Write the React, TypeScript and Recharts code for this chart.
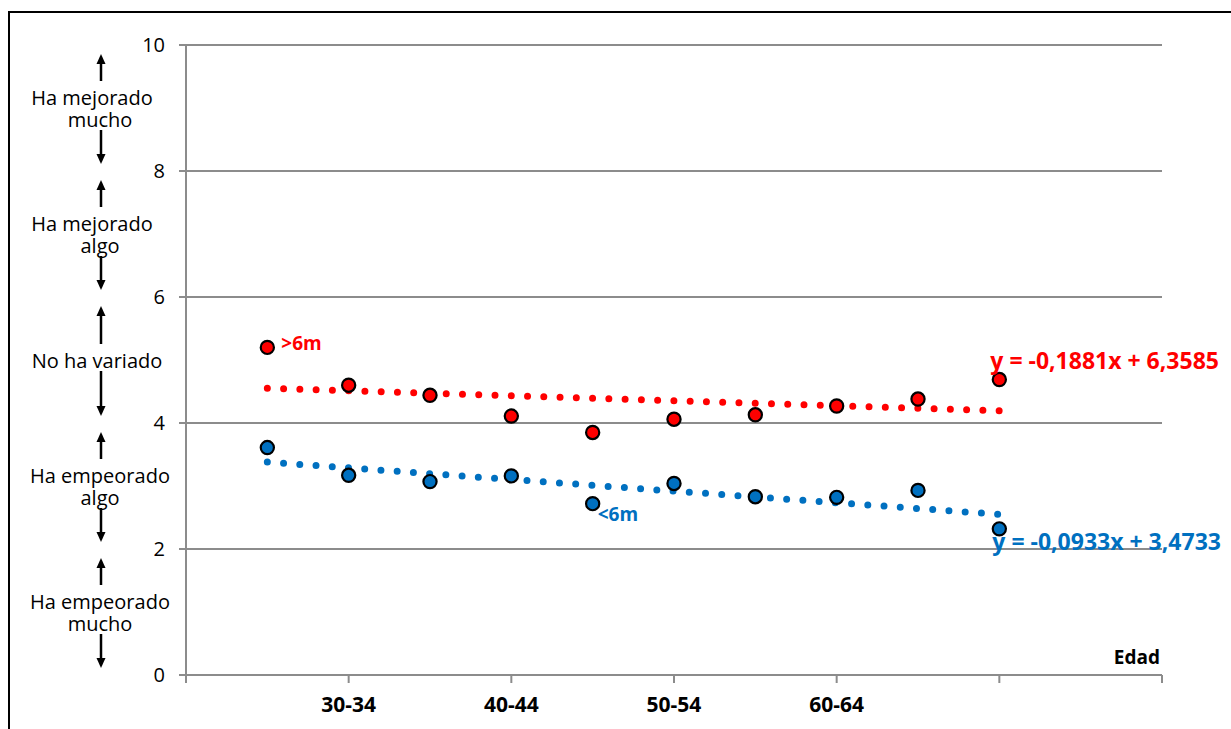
import React from 'react';
import { ScatterChart, Scatter, XAxis, YAxis, CartesianGrid, ReferenceLine, ReferenceDot } from 'recharts';

// ---- data ----
const ageGroups = ['25-29', '30-34', '35-39', '40-44', '45-49', '50-54', '55-59', '60-64', '65-69', '70-74'];
const xPositions = [1, 2, 3, 4, 5, 6, 7, 8, 9, 10];
const overSixMonths = [5.2, 4.6, 4.44, 4.11, 3.85, 4.06, 4.13, 4.27, 4.38, 4.69];
const underSixMonths = [3.61, 3.17, 3.07, 3.16, 2.72, 3.04, 2.83, 2.82, 2.93, 2.32];
const overTrend = [4.55, 4.195]; // trend value at first and last position
const underTrend = [3.38, 2.55];
const xTicks = [0, 2, 4, 6, 8, 10, 12];
const xTickLabels: Record<number, string> = { 2: ageGroups[1], 4: ageGroups[3], 6: ageGroups[5], 8: ageGroups[7] };
const yTicks = [0, 2, 4, 6, 8, 10];
const overEquation = 'y = -0,1881x + 6,3585';
const underEquation = 'y = -0,0933x + 3,4733';
const bands = [
  { lo: 8, hi: 10, lines: ['Ha mejorado', 'mucho'] },
  { lo: 6, hi: 8, lines: ['Ha mejorado', 'algo'] },
  { lo: 4, hi: 6, lines: ['No ha variado'] },
  { lo: 2, hi: 4, lines: ['Ha empeorado', 'algo'] },
  { lo: 0, hi: 2, lines: ['Ha empeorado', 'mucho'] },
];

const RED = '#ff0000';
const BLUE = '#0070c0';
const GRAY = '#8c8c8c';
const FONT = "'Open Sans', sans-serif";

const W = 1231;
const H = 729;
const PLOT_TOP = 45;
const PLOT_BOTTOM = 675;
const Y_MAX = 10;
const yPix = (v: number) => PLOT_BOTTOM - (v / Y_MAX) * (PLOT_BOTTOM - PLOT_TOP);

const overData = xPositions.map((x, i) => ({ x, y: overSixMonths[i], age: ageGroups[i] }));
const underData = xPositions.map((x, i) => ({ x, y: underSixMonths[i], age: ageGroups[i] }));

const marker = (fill: string) => (p: any) => (
  <circle cx={p.cx} cy={p.cy} r={6.6} fill={fill} stroke="#000" strokeWidth={2.2} />
);

const textLabel = (text: string, color: string, dx: number, dy: number, size: number) => (p: any) => (
  <text
    x={p.viewBox.x + dx}
    y={p.viewBox.y + dy}
    fill={color}
    fontFamily={FONT}
    fontWeight={700}
    fontSize={size}
    textAnchor="start"
    dominantBaseline="central"
  >
    {text}
  </text>
);

const XTick = (p: any) => {
  const label = xTickLabels[p.payload.value] || '';
  return (
    <text x={p.x} y={p.y + 19} textAnchor="middle" dominantBaseline="central" fontFamily={FONT} fontWeight={700} fontSize={21} fill="#000">
      {label}
    </text>
  );
};

function Arrow({ x, y1, y2 }: { x: number; y1: number; y2: number }) {
  // arrow tip at y2
  const dir = y2 > y1 ? 1 : -1;
  const headLen = 10;
  return (
    <g>
      <line x1={x} y1={y1} x2={x} y2={y2 - dir * headLen + dir * 1} stroke="#000" strokeWidth={2.5} />
      <polygon points={`${x - 4.5},${y2 - dir * headLen} ${x + 4.5},${y2 - dir * headLen} ${x},${y2}`} fill="#000" />
    </g>
  );
}

function SideNotes() {
  const ax = 101;
  return (
    <svg width={W} height={H} style={{ position: 'absolute', left: 0, top: 0, pointerEvents: 'none' }}>
      {bands.map((b, i) => {
        const top = yPix(b.hi);
        const bottom = yPix(b.lo);
        const c = (top + bottom) / 2;
        const n = b.lines.length;
        const half = n === 2 ? 22 : 11;
        return (
          <g key={i}>
            <Arrow x={ax} y1={c - half - 5} y2={top + 9} />
            <text fontFamily={FONT} fontSize={20} fill="#000" textAnchor="middle" dominantBaseline="central">
              {b.lines.map((t, j) => (
                <tspan
                  key={j}
                  x={t === 'Ha mejorado' ? 92 : t === 'No ha variado' ? 97 : 100}
                  y={c + (j - (n - 1) / 2) * 22}
                >
                  {t}
                </tspan>
              ))}
            </text>
            <Arrow x={ax} y1={c + half} y2={bottom - 7} />
          </g>
        );
      })}
      <text x={1160} y={657} textAnchor="end" dominantBaseline="central" fontFamily={FONT} fontWeight={700} fontSize={19} fill="#000">
        Edad
      </text>
    </svg>
  );
}

export default function App() {
  return (
    <div style={{ position: 'absolute', left: 0, top: 0, width: W, height: H, overflow: 'hidden', background: '#fff' }}>
      <div
        style={{
          position: 'absolute',
          left: 8,
          top: 11,
          width: W - 10,
          height: H - 13,
          borderTop: '2px solid #000',
          borderLeft: '2px solid #000',
        }}
      />
      <div style={{ position: 'absolute', left: 0, top: 0 }}>
        <ScatterChart width={W} height={H} margin={{ top: PLOT_TOP, right: 69, left: 126, bottom: 14 }}>
          <CartesianGrid horizontal vertical={false} stroke={GRAY} strokeWidth={2} />
          <XAxis
            type="number"
            dataKey="x"
            domain={[0, 12]}
            ticks={xTicks}
            interval={0}
            height={40}
            axisLine={{ stroke: GRAY, strokeWidth: 2 }}
            tickLine={{ stroke: GRAY, strokeWidth: 2 }}
            tickSize={8}
            tick={<XTick />}
          />
          <YAxis
            type="number"
            dataKey="y"
            domain={[0, 10]}
            ticks={yTicks}
            interval={0}
            width={60}
            axisLine={{ stroke: GRAY, strokeWidth: 2 }}
            tickLine={{ stroke: GRAY, strokeWidth: 2 }}
            tickSize={7}
            tickMargin={14}
            tick={{ fill: '#000', fontFamily: FONT, fontSize: 20 }}
          />
          <Scatter data={overData} fill={RED} shape={marker(RED)} isAnimationActive={false} />
          <Scatter data={underData} fill={BLUE} shape={marker(BLUE)} isAnimationActive={false} />
          <ReferenceLine
            segment={[
              { x: xPositions[0], y: overTrend[0] },
              { x: xPositions[xPositions.length - 1], y: overTrend[1] },
            ]}
            stroke={RED}
            strokeWidth={7}
            strokeDasharray="0 16.27"
            strokeLinecap="round"
          />
          <ReferenceLine
            segment={[
              { x: xPositions[0], y: underTrend[0] },
              { x: xPositions[xPositions.length - 1], y: underTrend[1] },
            ]}
            stroke={BLUE}
            strokeWidth={7}
            strokeDasharray="0 16.27"
            strokeLinecap="round"
          />
          <ReferenceDot x={xPositions[0]} y={overSixMonths[0]} r={0} label={textLabel('>6m', RED, 14, -4, 19)} />
          <ReferenceDot x={xPositions[4]} y={underSixMonths[4]} r={0} label={textLabel('<6m', BLUE, 5, 10, 19)} />
          <ReferenceDot x={xPositions[9]} y={overSixMonths[9]} r={0} label={textLabel(overEquation, RED, -9, -20, 23)} />
          <ReferenceDot x={xPositions[9]} y={underSixMonths[9]} r={0} label={textLabel(underEquation, BLUE, -7, 12, 23)} />
        </ScatterChart>
      </div>
      <SideNotes />
    </div>
  );
}
